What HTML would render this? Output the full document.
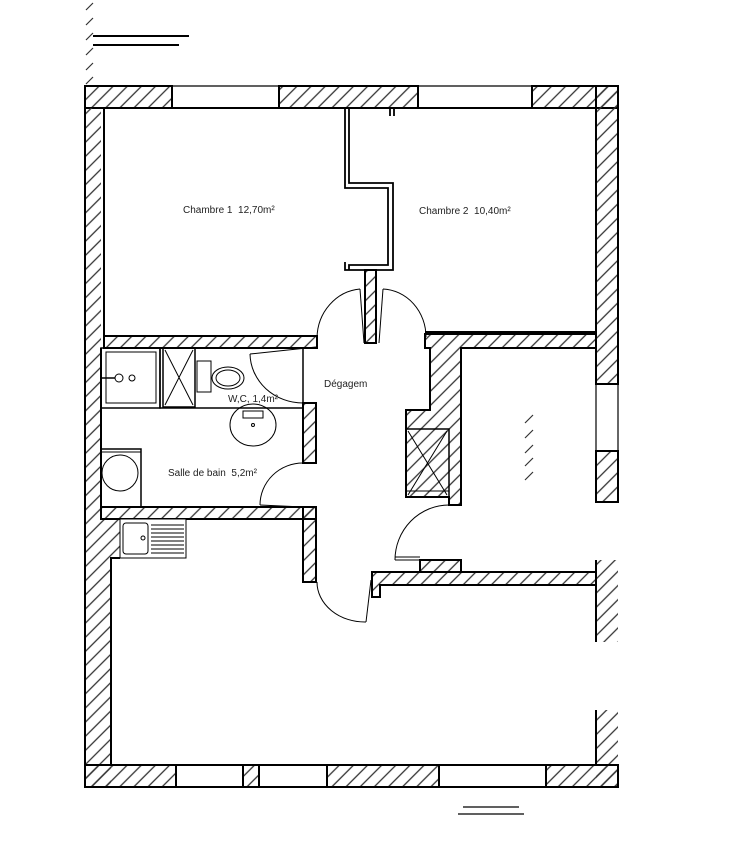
<!DOCTYPE html>
<html><head><meta charset="utf-8"><style>html,body{margin:0;padding:0;background:#fff}svg{display:block}</style></head>
<body>
<svg width="746" height="857" viewBox="0 0 746 857" xmlns="http://www.w3.org/2000/svg">
<defs>
<pattern id="h" patternUnits="userSpaceOnUse" width="10" height="10" patternTransform="rotate(45)">
<line x1="1" y1="0" x2="1" y2="10" stroke="#333" stroke-width="1.3"/>
</pattern>
</defs>
<g fill="url(#h)" stroke="#000" stroke-width="2">
<rect x="85" y="86" width="87" height="22"/>
<rect x="279" y="86" width="139" height="22"/>
<rect x="532" y="86" width="86" height="22"/>
<path d="M85 86 V787 H111 V558 H120 V519 H101 V108 H85Z" stroke="none"/>
<rect x="596" y="86" width="22" height="298"/>
<rect x="596" y="451" width="22" height="51"/>
<path d="M596 560 L618 560 L618 642 L596 642Z" stroke="none"/>
<path d="M596 710 L618 710 L618 787 L596 787Z" stroke="none"/>
<rect x="85" y="765" width="91" height="22"/>
<rect x="243" y="765" width="16" height="22"/>
<rect x="327" y="765" width="112" height="22"/>
<rect x="546" y="765" width="72" height="22"/>
<rect x="104" y="336" width="213" height="12"/>
<rect x="101" y="507" width="215" height="12"/>
<rect x="303" y="403" width="13" height="60"/>
<rect x="303" y="507" width="13" height="75"/>
<path d="M365 270 H376 V343 H365Z"/>
<path d="M425 334 H596 V348 H461 V505 H449 V497 H406 V410 H430 V348 H425Z"/>
<path d="M420 560 H461 V572 H596 V585 H380 V597 H372 V572 H420Z"/>
</g>
<g fill="none" stroke="#000" stroke-width="2">
<path d="M85 86 V787 H618"/>
<path d="M104 108 H345 M393 108 H596 V332 H425"/>
<path d="M104 108 V336"/>
<path d="M101 348 V519"/>
<path d="M120 558 H111 V765 H596"/>
<line x1="618" y1="86" x2="618" y2="384"/>
<line x1="596" y1="560" x2="596" y2="642"/>
<line x1="596" y1="710" x2="596" y2="765"/>
<line x1="420" y1="572" x2="461" y2="572"/>
</g>
<g fill="none" stroke="#000" stroke-width="1.2">
<path d="M172 86 H279 M172 108 H279 M418 86 H532 M418 108 H532"/>
<path d="M596 384 V451 M618 384 V451"/>
<path d="M176 787 H243 M176 765 H243 M439 765 H546 M439 787 H546"/>
</g>
<g fill="none" stroke="#000" stroke-width="1.8">
<path d="M345 108 V188 H388 V265 H349 V270"/>
<path d="M349 108 V183 H393 V270 H345 V262"/>
<path d="M390 108 V116 M394 108 V116"/>
</g>
<g fill="none" stroke="#000" stroke-width="1">
<path d="M317 338 A47 50 0 0 1 360 289"/>
<path d="M360 289 L364 343"/>
<path d="M383 289 L379 343"/>
<path d="M383 289 A45 48 0 0 1 426 337"/>
<path d="M250 354 A53 50 0 0 0 303 403"/>
<path d="M250 354 L316 347"/>
<path d="M260 505 A43 42 0 0 1 303 463"/>
<path d="M260 505 L303 507"/>
<path d="M317 582 A48 40 0 0 0 366 622"/>
<path d="M366 622 L371 580"/>
<path d="M395 560 A54 55 0 0 1 449 505"/>
<path d="M395 560 H420 M395 557 H420"/>
</g>
<g fill="none" stroke="#000" stroke-width="1.5">
<rect x="101" y="348" width="59" height="60"/>
<rect x="160" y="348" width="143" height="60"/>
<rect x="163" y="348" width="32" height="59"/>
<rect x="101" y="449" width="40" height="58"/>
<rect x="406" y="429" width="43" height="68"/>
</g>
<g fill="none" stroke="#000" stroke-width="1">
<rect x="106" y="352" width="50" height="51"/>
<circle cx="119" cy="378" r="4"/><circle cx="132" cy="378" r="3"/>
<line x1="101" y1="378" x2="115" y2="378" stroke-width="1.5"/>
<path d="M165 350 L193 405 M193 350 L165 405"/>
<rect x="197" y="361" width="14" height="31"/>
<ellipse cx="228" cy="378" rx="16" ry="11"/>
<ellipse cx="228" cy="378" rx="12" ry="8"/>
<ellipse cx="253" cy="425" rx="23" ry="21"/>
<rect x="243" y="411" width="20" height="7"/>
<circle cx="253" cy="425" r="1.5"/>
<circle cx="120" cy="473" r="18"/>
<path d="M101 452 H141"/>
<rect x="120" y="519" width="66" height="39" fill="#fff"/>
<rect x="123" y="523" width="25" height="31" rx="3"/>
<circle cx="143" cy="538" r="2"/>
<path d="M151 525 H184 M151 529 H184 M151 533 H184 M151 537 H184 M151 541 H184 M151 545 H184 M151 549 H184 M151 553 H184"/>
<path d="M408 431 L447 495 M447 431 L408 495"/>
<path d="M406 491 H449"/>
</g>
<g stroke="#000" stroke-width="2"><line x1="93" y1="36" x2="189" y2="36"/><line x1="93" y1="45" x2="179" y2="45"/>
<line x1="463" y1="807" x2="519" y2="807" stroke-width="1.2"/><line x1="458" y1="814" x2="524" y2="814" stroke-width="1.2"/></g>
<g stroke="#333" stroke-width="1.2">
<path d="M86 10 L93 3 M86 25 L93 18 M86 40 L93 33 M86 55 L93 48 M86 70 L93 63 M86 84 L93 77"/>
<path d="M525 423 L533 415 M525 438 L533 430 M525 453 L533 445 M525 466 L533 458 M525 480 L533 472"/>
</g>
<g font-family="'Liberation Sans', sans-serif" font-size="10" fill="#222">
<text x="183" y="213">Chambre 1&#160;&#160;12,70m²</text>
<text x="419" y="214">Chambre 2&#160;&#160;10,40m²</text>
<text x="324" y="387">Dégagem</text>
<text x="228" y="402">W,C, 1,4m²</text>
<text x="168" y="476">Salle de bain&#160;&#160;5,2m²</text>
</g>
</svg>
</body></html>
